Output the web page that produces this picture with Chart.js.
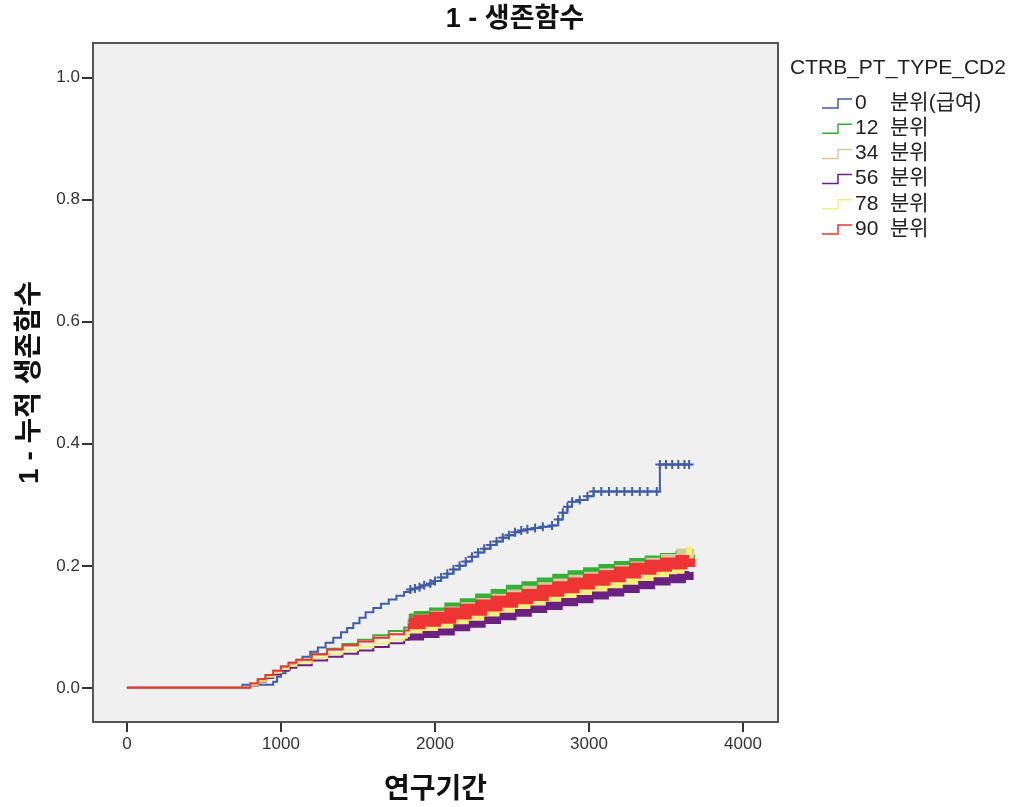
<!DOCTYPE html>
<html lang="ko">
<head>
<meta charset="utf-8">
<title>1 - 생존함수</title>
<script src="https://cdn.jsdelivr.net/npm/chart.js@4.4.1/dist/chart.umd.min.js"></script>
<style>
  html, body { margin: 0; padding: 0; background: #fff; }
  #wrap { width: 1016px; height: 807px; position: relative; }
</style>
</head>
<body>
<div id="wrap"><canvas id="survChart"></canvas></div>
<script>
const FONT = 'Arial, "Liberation Sans", "Noto Sans CJK KR", sans-serif';

// legend entries (CTRB_PT_TYPE_CD2)
const groupNumbers = ['0', '12', '34', '56', '78', '90'];
const groupSuffix = ['분위(급여)', '분위', '분위', '분위', '분위', '분위'];
const groupColors = ['#3f5ca8', '#35b035', '#d3c99e', '#6b2182', '#f3f07a', '#ef3434'];

// 0 분위(급여): days vs 1 - cumulative survival
const days0 = [0, 750, 930, 950, 975, 1000, 1030, 1060, 1100, 1140, 1190, 1240, 1290, 1340, 1390,
  1430, 1470, 1510, 1550, 1600, 1650, 1700, 1750, 1800, 1840, 1870, 1900, 1930, 1970, 2000,
  2040, 2080, 2120, 2160, 2200, 2240, 2280, 2320, 2360, 2400, 2440, 2480, 2520, 2560, 2600,
  2650, 2700, 2760, 2800, 2830, 2860, 2890, 2940, 2990, 3030, 3080, 3130, 3180, 3230, 3280,
  3330, 3380, 3440, 3460, 3500, 3540, 3580, 3620, 3650];
const cum0 = [0, 0.005, 0.005, 0.010, 0.018, 0.024, 0.030, 0.037, 0.045, 0.051, 0.059, 0.066, 0.074, 0.082, 0.091,
  0.098, 0.106, 0.115, 0.124, 0.131, 0.138, 0.145, 0.151, 0.157, 0.161, 0.163, 0.165, 0.168, 0.171, 0.175,
  0.181, 0.187, 0.194, 0.200, 0.207, 0.215, 0.222, 0.228, 0.234, 0.240, 0.246, 0.250, 0.255, 0.258, 0.260,
  0.262, 0.264, 0.266, 0.276, 0.287, 0.297, 0.305, 0.308, 0.314, 0.322, 0.322, 0.322, 0.322, 0.322, 0.322,
  0.322, 0.322, 0.322, 0.366, 0.366, 0.366, 0.366, 0.366, 0.366];

// the other groups, read on a common grid of days
const bundleDays = [0, 750, 800, 850, 900, 950, 1000, 1050, 1100, 1200, 1300, 1400, 1500, 1600, 1700, 1800, 1830, 1900, 2000,
  2100, 2200, 2300, 2400, 2500, 2600, 2700, 2800, 2900, 3000, 3100, 3200, 3300, 3400, 3500, 3600, 3650];
const cum12 = [0, 0, 0.007, 0.014, 0.021, 0.028, 0.035, 0.041, 0.046, 0.055, 0.064, 0.072, 0.079, 0.086, 0.093, 0.099, 0.112, 0.116, 0.122,
  0.130, 0.137, 0.145, 0.152, 0.159, 0.165, 0.171, 0.177, 0.183, 0.188, 0.193, 0.198, 0.203, 0.207, 0.211, 0.215, 0.218];
const cum34 = [0, 0, 0.006, 0.013, 0.020, 0.027, 0.034, 0.040, 0.045, 0.054, 0.062, 0.069, 0.076, 0.082, 0.088, 0.094, 0.108, 0.112, 0.118,
  0.125, 0.132, 0.139, 0.146, 0.153, 0.159, 0.165, 0.171, 0.177, 0.182, 0.188, 0.193, 0.199, 0.205, 0.211, 0.220, 0.228];
const cum56 = [0, 0, 0.004, 0.010, 0.016, 0.022, 0.028, 0.033, 0.037, 0.045, 0.051, 0.056, 0.061, 0.067, 0.073, 0.079, 0.085, 0.089, 0.093,
  0.100, 0.106, 0.112, 0.118, 0.124, 0.130, 0.135, 0.141, 0.146, 0.152, 0.157, 0.163, 0.169, 0.175, 0.179, 0.184, 0.190];
const cum78 = [0, 0, 0.005, 0.011, 0.018, 0.025, 0.031, 0.036, 0.041, 0.049, 0.056, 0.062, 0.067, 0.073, 0.079, 0.085, 0.094, 0.098, 0.102,
  0.109, 0.115, 0.122, 0.128, 0.134, 0.140, 0.146, 0.152, 0.157, 0.163, 0.168, 0.174, 0.180, 0.186, 0.192, 0.205, 0.232];
const cum90 = [0, 0, 0.007, 0.014, 0.021, 0.028, 0.035, 0.041, 0.046, 0.055, 0.063, 0.070, 0.076, 0.082, 0.088, 0.094, 0.106, 0.110, 0.115,
  0.122, 0.128, 0.135, 0.141, 0.147, 0.152, 0.159, 0.165, 0.171, 0.177, 0.183, 0.189, 0.195, 0.200, 0.204, 0.208, 0.212];

const xTicks = [0, 1000, 2000, 3000, 4000];
const yTicks = [0, 0.2, 0.4, 0.6, 0.8, 1.0];

const CENSOR_FROM = 1830; // dense censoring marks start here

function toPoints(xs, ys) {
  return xs.map((x, i) => ({ x: x, y: ys[i] }));
}

// thin step line, turns into a thick band where censor marks pile up
function bandSet(idx, ys, bandWidth, order) {
  return {
    label: groupNumbers[idx],
    data: toPoints(bundleDays, ys),
    borderColor: groupColors[idx],
    borderWidth: 2,
    stepped: true,
    pointRadius: 0,
    order: order,
    segment: {
      borderWidth: c => c.p0.parsed.x >= CENSOR_FROM ? bandWidth : 2,
    },
  };
}

// grey plotting area, frame and the main title
const plotFrame = {
  id: 'plotFrame',
  beforeDraw(chart) {
    const { ctx, chartArea: a } = chart;
    ctx.save();
    ctx.fillStyle = '#f0f0f0';
    ctx.fillRect(a.left, a.top, a.right - a.left, a.bottom - a.top);
    ctx.restore();
  },
  afterDraw(chart) {
    const { ctx, chartArea: a } = chart;
    ctx.save();
    ctx.strokeStyle = '#555';
    ctx.lineWidth = 2;
    ctx.strokeRect(a.left, a.top, a.right - a.left, a.bottom - a.top);
    ctx.fillStyle = '#111';
    ctx.font = 'bold 27px ' + FONT;
    ctx.textAlign = 'center';
    ctx.textBaseline = 'middle';
    ctx.fillText('1 - 생존함수', 515, 20);
    ctx.restore();
  }
};

// SPSS-like legend on the right
const sideLegend = {
  id: 'sideLegend',
  afterDraw(chart) {
    const ctx = chart.ctx;
    ctx.save();
    ctx.textBaseline = 'middle';
    ctx.fillStyle = '#222';
    ctx.font = '21px ' + FONT;
    ctx.fillText('CTRB_PT_TYPE_CD2', 790, 68);
    for (let i = 0; i < groupNumbers.length; i++) {
      const y = 103 + i * 25.2;
      ctx.strokeStyle = groupColors[i];
      ctx.lineWidth = 1.5;
      ctx.beginPath();
      ctx.moveTo(822, y + 5);
      ctx.lineTo(838, y + 5);
      ctx.lineTo(838, y - 4);
      ctx.lineTo(852, y - 4);
      ctx.stroke();
      ctx.fillStyle = '#222';
      ctx.fillText(groupNumbers[i], 855, y);
      ctx.fillText(groupSuffix[i], 890, y);
    }
    ctx.restore();
  }
};

const ctx = document.getElementById('survChart').getContext('2d');

new Chart(ctx, {
  type: 'line',
  data: {
    datasets: [
      {
        label: groupNumbers[0],
        data: toPoints(days0, cum0),
        borderColor: groupColors[0],
        borderWidth: 2,
        stepped: true,
        pointStyle: 'cross',
        pointRadius: c => (c.raw && c.raw.x >= CENSOR_FROM) ? 4.5 : 0,
        pointBorderColor: groupColors[0],
        pointBorderWidth: 2,
        order: 5,
      },
      bandSet(1, cum12, 12, 4),
      bandSet(2, cum34, 10, 3),
      bandSet(3, cum56, 9, 2),
      bandSet(4, cum78, 6, 1),
      bandSet(5, cum90, 12, 0),
    ]
  },
  options: {
    responsive: true,
    maintainAspectRatio: false,
    animation: false,
    layout: { padding: { top: 43, right: 238, bottom: 0, left: 0 } },
    plugins: {
      legend: { display: false },
      tooltip: { enabled: false },
      title: { display: false },
    },
    scales: {
      x: {
        type: 'linear',
        min: -220,
        max: 4227,
        afterBuildTicks: s => { s.ticks = xTicks.map(v => ({ value: v })); },
        afterFit: s => { s.height = 85; },
        border: { display: false },
        grid: { drawOnChartArea: false, drawTicks: true, tickLength: 10, color: '#333', lineWidth: 2 },
        ticks: { color: '#333', font: { family: FONT, size: 17 }, padding: 2, maxRotation: 0, callback: v => String(v) },
        title: {
          display: true,
          text: '연구기간',
          color: '#111',
          font: { family: FONT, size: 28, weight: 'bold' },
          padding: { top: 10, bottom: 0 },
        },
      },
      y: {
        min: -0.056,
        max: 1.057,
        afterBuildTicks: s => { s.ticks = yTicks.map(v => ({ value: v })); },
        afterFit: s => { s.width = 93; },
        border: { display: false },
        grid: { drawOnChartArea: false, drawTicks: true, tickLength: 11, color: '#333', lineWidth: 2 },
        ticks: { color: '#333', font: { family: FONT, size: 17 }, padding: 2, callback: v => v.toFixed(1) },
        title: {
          display: true,
          text: '1 - 누적 생존함수',
          color: '#111',
          font: { family: FONT, size: 28, weight: 'bold' },
          padding: { top: 13, bottom: 6 },
        },
      },
    },
  },
  plugins: [plotFrame, sideLegend],
});
</script>
</body>
</html>
